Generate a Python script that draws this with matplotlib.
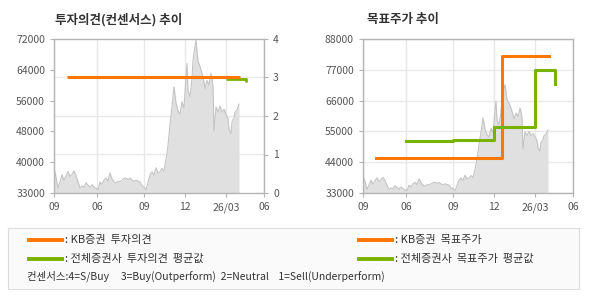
import numpy as np
import matplotlib
matplotlib.use("Agg")
import matplotlib.pyplot as plt

plt.rcParams['font.family'] = ['Noto Sans CJK KR', 'DejaVu Sans']

# x axis: trading-day offsets
tick_pos = [0, 43, 90, 131, 172, 210]
tick_labels = ['09', '06', '09', '12', '26/03', '06']

price_day = [0, 2, 4, 6, 8, 10, 12, 14, 16, 18, 20, 22, 24, 26, 28, 30, 32, 34, 36, 38,
             40, 42, 44, 46, 48, 50, 52, 54, 56, 58, 60, 62, 64, 66, 68, 70, 72, 74, 76, 78,
             80, 82, 84, 86, 88, 90, 92, 94, 96, 98, 100, 102, 104, 106, 108, 110, 112, 114,
             116, 118, 120, 122, 124, 126, 128, 130, 132, 133, 134, 136, 138, 139, 140, 142,
             144, 146, 148, 150, 151, 153, 155, 157, 158, 159, 160, 162, 164, 166, 168, 170,
             172, 174, 175, 177, 178, 180, 181, 183, 185]
price = [39400, 37000, 34300, 35800, 37600, 36200, 37400, 38400, 37200, 37800, 38600, 37400,
         35800, 34300, 34800, 34500, 35600, 35000, 34500, 35100, 34500, 34200, 33800, 35800,
         35200, 36300, 36800, 36000, 38100, 36600, 35800, 35500, 36000, 35800, 36300, 36700,
         36800, 36400, 36800, 36300, 35900, 36300, 36000, 35800, 34800, 34500, 33800, 35600,
         37600, 38400, 37500, 39400, 38000, 38400, 39200, 38600, 41500, 45000, 50400, 54800,
         59900, 55800, 53800, 53000, 56100, 54500, 62500, 65800, 58900, 57400, 62000, 66600,
         68500, 71700, 66400, 65100, 63300, 61000, 59400, 61500, 60300, 63300, 62000, 59900,
         48700, 54800, 53500, 55000, 53500, 54200, 53000, 51800, 49200, 48000, 51200, 52000,
         53500, 54000, 55500]

# consensus (investment opinion)
kb_op_day = [13, 186]
kb_op = [3, 3]
avg_op_day = [172, 192]
avg_op = [2.97, 2.88]

# target price
kb_tp_day = [13, 139, 186]
kb_tp = [45500, 82000, 82000]
avg_tp_day = [43, 90, 131, 172, 192]
avg_tp = [51500, 52000, 56500, 77000, 72000]

orange = '#ff7700'
green = '#77b300'
frame = '#b4b4b4'
grid = '#e8e8e8'
txt = '#555555'

fig = plt.figure(figsize=(5.9, 3.0), dpi=100)
W, H = 590, 300


def setup(ax):
    ax.set_xlim(0, 210)
    ax.set_xticks(tick_pos)
    ax.set_xticklabels(tick_labels)
    ax.tick_params(axis='both', colors=frame, labelcolor=txt, labelsize=7.5, length=3, width=0.8)
    for s in ax.spines.values():
        s.set_color(frame)
        s.set_linewidth(1)
    ax.grid(True, color=grid, lw=1)
    ax.set_axisbelow(True)


# left chart
ax1 = fig.add_axes([54 / W, 1 - 193 / H, 210 / W, 154 / H])
setup(ax1)
ax1.set_ylim(33000, 72000)
ax1.set_yticks(np.linspace(33000, 72000, 6))
ax1.set_yticklabels(['33000', '40000', '48000', '56000', '64000', '72000'])
ax1.grid(False, axis='y')
for v in np.linspace(33000, 72000, 5)[1:-1]:
    ax1.axhline(v, color=grid, lw=1, zorder=0)
ax1.fill_between(price_day, price, 33000, color='#e0e0e0', lw=0)
ax1.plot(price_day, price, color='#c4c4c4', lw=0.8)
ax1r = ax1.twinx()
ax1r.set_ylim(0, 4)
ax1r.set_yticks([0, 1, 2, 3, 4])
ax1r.tick_params(axis='y', colors=frame, labelcolor=txt, labelsize=7.5, length=3, width=0.8)
for s in ax1r.spines.values():
    s.set_visible(False)
ax1r.plot(avg_op_day, avg_op, color=green, lw=2, drawstyle='steps-post', solid_capstyle='butt')
ax1r.plot(kb_op_day, kb_op, color=orange, lw=2.2, solid_capstyle='butt')
fig.text(55 / W, 1 - 20 / H, '투자의견(컨센서스) 추이', fontsize=9, fontweight='bold',
         color='#333333', va='center')

# right chart
ax2 = fig.add_axes([363 / W, 1 - 193 / H, 210 / W, 154 / H])
setup(ax2)
ax2.set_ylim(33000, 88000)
ax2.set_yticks([33000, 44000, 55000, 66000, 77000, 88000])
ax2.fill_between(price_day, price, 33000, color='#e0e0e0', lw=0)
ax2.plot(price_day, price, color='#c4c4c4', lw=0.8)
ax2.step(kb_tp_day, kb_tp, where='post', color=orange, lw=2.2)
ax2.step(avg_tp_day, avg_tp, where='post', color=green, lw=2.2)
fig.text(367 / W, 1 - 20 / H, '목표주가 추이', fontsize=9, fontweight='bold',
         color='#333333', va='center')

# legend box
lg = fig.add_axes([8 / W, 1 - 289 / H, 571 / W, 61 / H])
lg.set_xlim(8, 579)
lg.set_ylim(289, 228)
lg.set_xticks([])
lg.set_yticks([])
lg.set_facecolor('#fafafa')
for s in lg.spines.values():
    s.set_color('#dddddd')
legend_items = [
    (27, 240.5, orange, ': KB증권  투자의견'),
    (27, 259, green, ': 전체증권사  투자의견  평균값'),
    (357, 240.5, orange, ': KB증권  목표주가'),
    (357, 259, green, ': 전체증권사  목표주가  평균값'),
]
for x0, y0, c, label in legend_items:
    lg.plot([x0, x0 + 37], [y0, y0], color=c, lw=2.8, solid_capstyle='butt')
    lg.text(x0 + 38, y0, label, fontsize=8, color='#333333', va='center')
lg.text(27, 276.5, '컨센서스:4=S/Buy     3=Buy(Outperform)  2=Neutral    1=Sell(Underperform)',
        fontsize=7.5, color='#333333', va='center')

fig.savefig('out.png', dpi=100)
